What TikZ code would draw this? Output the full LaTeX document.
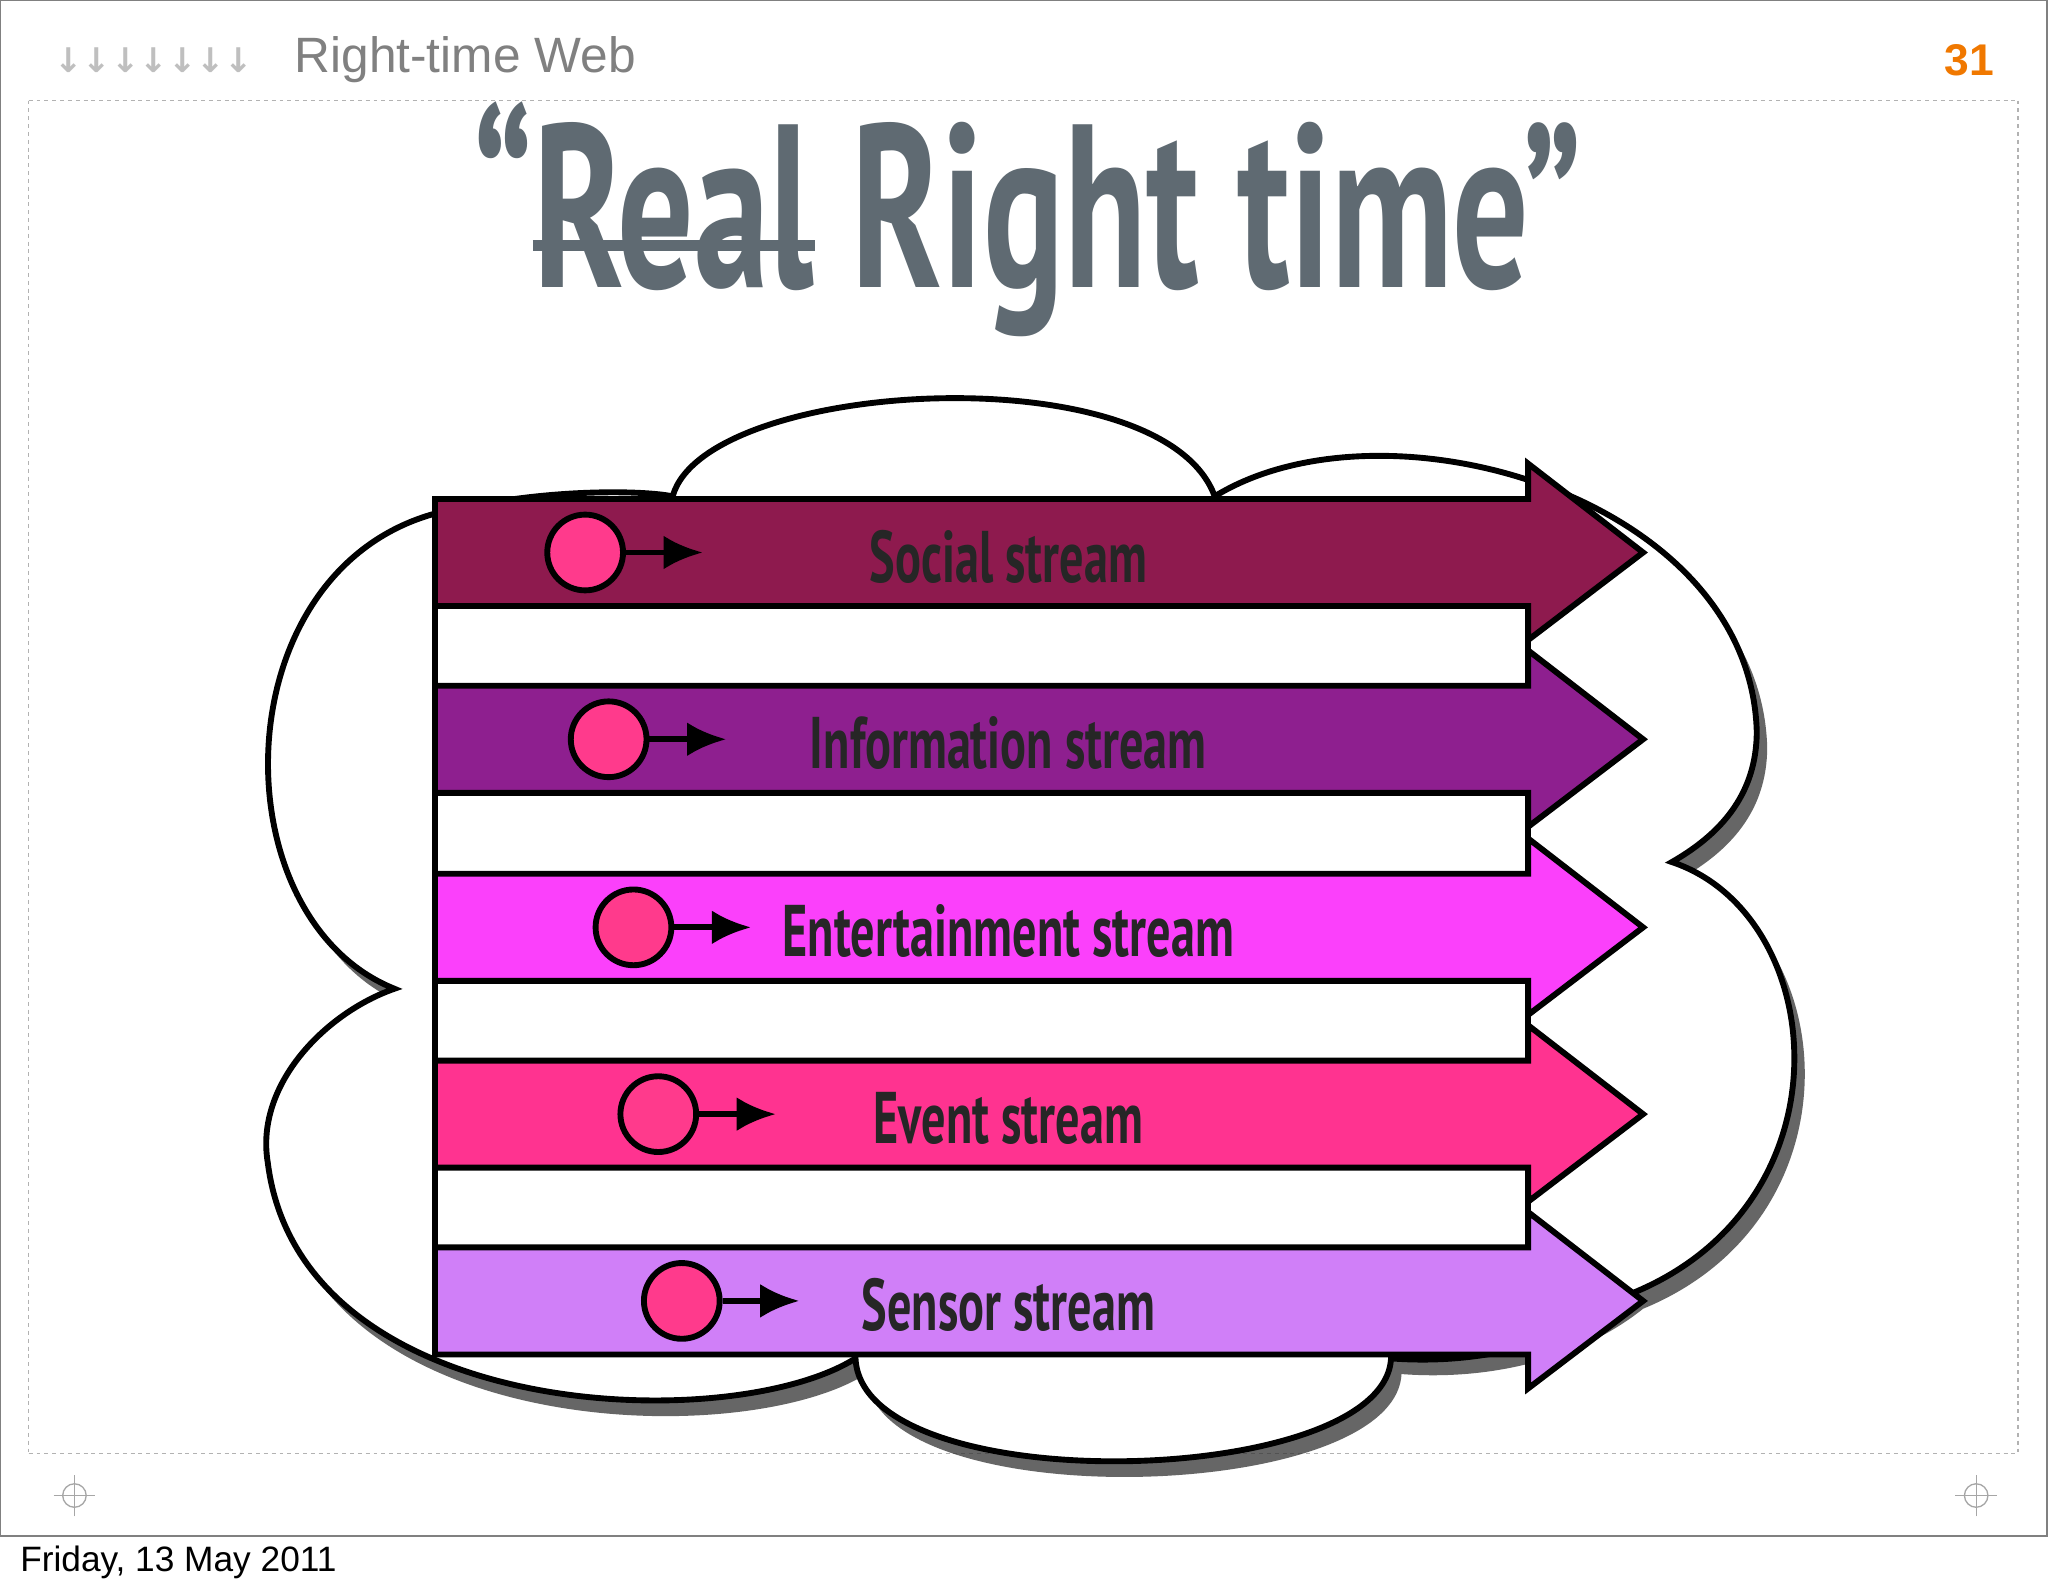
\documentclass[tikz,border=0pt]{standalone}
\usepackage{fontspec}
\setmainfont{PT Sans}
\newfontfamily\hdr{Liberation Sans}
\newfontfamily\sym{DejaVu Sans}
\usetikzlibrary{arrows.meta,shadows}
\definecolor{tgray}{HTML}{5F6A72}
\definecolor{cSoc}{HTML}{8E1A4E}
\definecolor{cInf}{HTML}{8E1F8F}
\definecolor{cEnt}{HTML}{FB40FB}
\definecolor{cEvt}{HTML}{FF3390}
\definecolor{cSen}{HTML}{D07FF8}
\definecolor{cDot}{HTML}{FF3A8C}
\definecolor{onum}{HTML}{F07800}
\tikzset{
 band/.style={draw=black,line width=4.5pt,line join=miter},
 dot/.style={circle,draw=black,line width=4.5pt,fill=cDot,minimum size=58pt,inner sep=0pt},
 lab/.style={font=\bfseries\fontsize{56}{56}\selectfont,xscale=0.66,text=black!85},
 small/.style={-{Latex[length=30pt,width=26pt]},line width=4.5pt}
}
\begin{document}
\begin{tikzpicture}[x=1pt,y=-1pt]
\useasboundingbox (0,0) rectangle (1568,1220);
\fill[white] (0,0) rectangle (1568,1220);
\draw[gray,line width=1.5pt] (0,0) rectangle (1567,1176);
\draw[gray!60,dashed,line width=1pt] (22,77) -- (1545,77);
\draw[gray!60,dashed,line width=1pt] (22,1113) -- (1545,1113);
\draw[gray!60,dashed,line width=1pt] (22,77) -- (22,1113);
\draw[gray!60,dashed,line width=1pt] (1545,77) -- (1545,1113);
\node[anchor=west,text=gray!50,font=\sym\bfseries\fontsize{26}{26}\selectfont] (arr) at (38,46) {↓↓↓↓↓↓↓};
\node[anchor=west,text=gray,font=\hdr\fontsize{38}{38}\selectfont] (ht) at (222,46) {Right-time Web};
\node[anchor=east,text=onum,font=\hdr\bfseries\fontsize{34}{34}\selectfont] (num) at (1530,46) {31};
\foreach \p/\n in {57/c1,1513/c2}{
 \coordinate (\n) at (\p,1145);
 \draw[gray!70,line width=1pt] (\n) circle (9);
 \draw[gray!70,line width=1pt] ([xshift=-16pt]\n) -- ([xshift=16pt]\n) ([yshift=-16pt]\n) -- ([yshift=16pt]\n);
}
\node[anchor=west,font=\hdr\fontsize{27}{27}\selectfont] (date) at (12,1196) {Friday, 13 May 2011};
% title
\node[text=tgray,font=\bfseries\fontsize{178}{178}\selectfont,xscale=0.65] (title) at (787,168) {“Real Right time”};
\coordinate (s1) at (408,188); \coordinate (s2) at (624,188);
\draw[tgray,line width=8pt] (s1) -- (s2);
% cloud
\draw[line width=4.5pt,fill=white,drop shadow={shadow xshift=8pt,shadow yshift=-12pt,opacity=0.75,fill=black!80}]
 (515,380) .. controls (540,290) and (890,270) .. (930,380)
 .. controls (1060,300) and (1340,380) .. (1345,560)
 .. controls (1345,610) and (1315,640) .. (1280,660)
 .. controls (1400,700) and (1420,920) .. (1250,990)
 .. controls (1200,1030) and (1130,1045) .. (1065,1040)
 .. controls (1060,1140) and (660,1150) .. (655,1040)
 .. controls (560,1100) and (230,1090) .. (205,890)
 .. controls (195,830) and (250,775) .. (302,757)
 .. controls (160,700) and (170,410) .. (360,388)
 .. controls (420,375) and (490,375) .. (515,380) -- cycle;
\draw[line width=4.5pt,fill=white] (333,382) rectangle (1170,1037);
\foreach \t/\c/\nm/\txt/\dx in {423/cSoc/s/Social stream/448,566/cInf/i/Information stream/466,710/cEnt/e/Entertainment stream/485,853/cEvt/v/Event stream/504,996/cSen/n/Sensor stream/522}{
 \draw[band,fill=\c] (333,\t-41) -- (1170,\t-41) -- (1170,\t-68) -- (1258,\t) -- (1170,\t+67) -- (1170,\t+41) -- (333,\t+41) -- cycle;
 \node[dot] (d\nm) at (\dx,\t) {};
 \coordinate (a\nm) at (\dx+90,\t);
 \draw[small] (d\nm.east) -- (a\nm);
 \node[lab] (l\nm) at (772,\t+3) {\txt};
}
\end{tikzpicture}
\end{document}
